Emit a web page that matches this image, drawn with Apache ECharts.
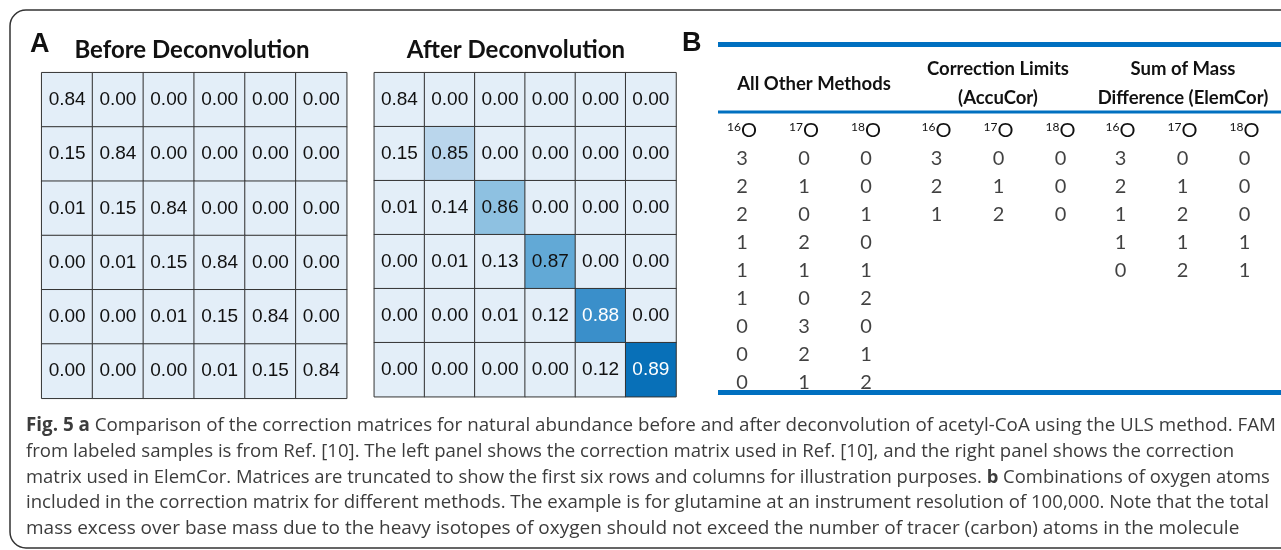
<!DOCTYPE html>
<html><head><meta charset="utf-8">
<script src="https://cdn.jsdelivr.net/npm/echarts@6/dist/echarts.min.js"></script>
<style>html,body{margin:0;padding:0;background:#fff}#c{width:1281px;height:550px}</style>
</head><body><div id="c"></div>
<script>
// ---- Panel A data ----
var matrixCols = [0,1,2,3,4,5];
var beforeMatrix = [
  [0.84,0.00,0.00,0.00,0.00,0.00],
  [0.15,0.84,0.00,0.00,0.00,0.00],
  [0.01,0.15,0.84,0.00,0.00,0.00],
  [0.00,0.01,0.15,0.84,0.00,0.00],
  [0.00,0.00,0.01,0.15,0.84,0.00],
  [0.00,0.00,0.00,0.01,0.15,0.84]
];
var afterMatrix = [
  [0.84,0.00,0.00,0.00,0.00,0.00],
  [0.15,0.85,0.00,0.00,0.00,0.00],
  [0.01,0.14,0.86,0.00,0.00,0.00],
  [0.00,0.01,0.13,0.87,0.00,0.00],
  [0.00,0.00,0.01,0.12,0.88,0.00],
  [0.00,0.00,0.00,0.00,0.12,0.89]
];
// ---- Panel B data ----
var isotopeLabels = ['16','17','18'];
var tableRows = ['r1','r2','r3','r4','r5','r6','r7','r8','r9'];
var allOtherMethods = [[3,0,0],[2,1,0],[2,0,1],[1,2,0],[1,1,1],[1,0,2],[0,3,0],[0,2,1],[0,1,2]];
var accuCor = [[3,0,0],[2,1,0],[1,2,0]];
var elemCor = [[3,0,0],[2,1,0],[1,2,0],[1,1,1],[0,2,1]];

var chart = echarts.init(document.getElementById('c'));

function heatData(m){
  var out=[];
  m.forEach(function(row,r){row.forEach(function(v,c){
    out.push({value:[c,r,v],label:{color: v>=0.875?'#ffffff':'#111111'}});
  });});
  return out;
}
function tableData(t){
  var out=[];
  t.forEach(function(row,r){row.forEach(function(v,c){out.push([c,r,v]);});});
  return out;
}

var supRich = {
  s:{fontFamily:'Lato',fontSize:12,color:'#111',padding:[0,0,7,0]},
  o:{fontFamily:'Lato',fontSize:20,color:'#111'}
};

var grids = [
  {left:41.7, top:72.7, width:305, height:325.6},
  {left:374.3, top:72.7, width:301.7, height:324},
  {left:711, top:145, width:186, height:251},
  {left:905.5, top:145, width:186, height:251},
  {left:1089.5, top:145, width:186, height:251}
];
var xAxes=[], yAxes=[];
[0,1].forEach(function(i){
  xAxes.push({type:'category',gridIndex:i,data:matrixCols,show:false});
  yAxes.push({type:'category',gridIndex:i,data:matrixCols,inverse:true,show:false});
});
[2,3,4].forEach(function(i){
  xAxes.push({type:'category',gridIndex:i,data:isotopeLabels,position:'top',
    axisLine:{show:false},axisTick:{show:false},
    axisLabel:{interval:0,margin:4,formatter:function(v){return '{s|'+v+'}{o|O}';},rich:supRich}});
  yAxes.push({type:'category',gridIndex:i,data:tableRows,inverse:true,show:false});
});

function heatSeries(m,idx){
  return {type:'heatmap',xAxisIndex:idx,yAxisIndex:idx,data:heatData(m),
    itemStyle:{borderColor:'#333',borderWidth:1},
    label:{show:true,formatter:function(p){return p.value[2].toFixed(2);},
      fontFamily:'Liberation Sans, Arial, sans-serif',fontSize:19},
    emphasis:{disabled:true}};
}
function tableSeries(t,idx){
  return {type:'scatter',xAxisIndex:idx,yAxisIndex:idx,data:tableData(t),symbolSize:1,
    itemStyle:{color:'rgba(0,0,0,0)'},
    label:{show:true,position:'inside',formatter:function(p){return p.value[2];},
      fontFamily:'Lato',fontSize:20,color:'#111'},silent:true};
}

var captionFont = 'Open Sans';
function capLine(txt,y,size){
  return {type:'text',x:26,y:y,style:{text:txt,fontFamily:captionFont,fontSize:size,fill:'#3c3c3c',verticalAlign:'middle',
    rich:{
      b:{fontFamily:captionFont,fontWeight:'bold',fontSize:size,color:'#222'},
      l:{fontFamily:captionFont,fontSize:size,color:'#3355cc'}
    }}};
}
function head(txt,x,y){
  return {type:'text',x:x,y:y,style:{text:txt,fontFamily:'Lato',fontWeight:'bold',fontSize:18.5,fill:'#111',align:'center',verticalAlign:'middle'}};
}
var blue='#0070c0';

var option = {
  animation:false,
  grid:grids, xAxis:xAxes, yAxis:yAxes,
  visualMap:{type:'continuous',show:false,seriesIndex:[0,1],min:0.84,max:0.89,dimension:2,
    inRange:{color:['#e3eef8','#bad6ec','#8ec1e1','#62a9d6','#3a8fca','#0870b8']}},
  series:[
    heatSeries(beforeMatrix,0), heatSeries(afterMatrix,1),
    tableSeries(allOtherMethods,2), tableSeries(accuCor,3), tableSeries(elemCor,4)
  ],
  graphic:[
    {type:'rect',shape:{x:10,y:10,width:1320,height:538,r:16},style:{fill:'none',stroke:'#333',lineWidth:1.5},z:-1},
    {type:'text',left:30,top:31,style:{text:'A',fontFamily:'Liberation Sans',fontWeight:'bold',fontSize:27,fill:'#111'}},
    {type:'text',left:682,top:30,style:{text:'B',fontFamily:'Liberation Sans',fontWeight:'bold',fontSize:27,fill:'#111'}},
    {type:'text',x:192,y:50,style:{text:'Before Deconvolution',fontFamily:'Lato',fontWeight:'bold',fontSize:24,fill:'#111',align:'center',verticalAlign:'middle'}},
    {type:'text',x:516,y:50,style:{text:'After Deconvolution',fontFamily:'Lato',fontWeight:'bold',fontSize:24,fill:'#111',align:'center',verticalAlign:'middle'}},
    {type:'rect',shape:{x:718,y:42,width:600,height:5},style:{fill:blue}},
    {type:'rect',shape:{x:718,y:110.5,width:600,height:3},style:{fill:blue}},
    {type:'rect',shape:{x:718,y:390,width:600,height:5},style:{fill:blue}},
    head('All Other Methods',814,84),
    head('Correction Limits',998,69),
    head('(AccuCor)',998,98),
    head('Sum of Mass',1183,69),
    head('Difference (ElemCor)',1183,98),
    capLine('{b|Fig. 5 a} Comparison of the correction matrices for natural abundance before and after deconvolution of acetyl-CoA using the ULS method. FAM',426,18.8),
    capLine('from labeled samples is from Ref. [{l|10}]. The left panel shows the correction matrix used in Ref. [{l|10}], and the right panel shows the correction',452,18.6),
    capLine('matrix used in ElemCor. Matrices are truncated to show the first six rows and columns for illustration purposes. {b|b} Combinations of oxygen atoms',478,18.45),
    capLine('included in the correction matrix for different methods. The example is for glutamine at an instrument resolution of 100,000. Note that the total',503,18.6),
    capLine('mass excess over base mass due to the heavy isotopes of oxygen should not exceed the number of tracer (carbon) atoms in the molecule',529,19.0)
  ]
};
chart.setOption(option);
</script></body></html>
